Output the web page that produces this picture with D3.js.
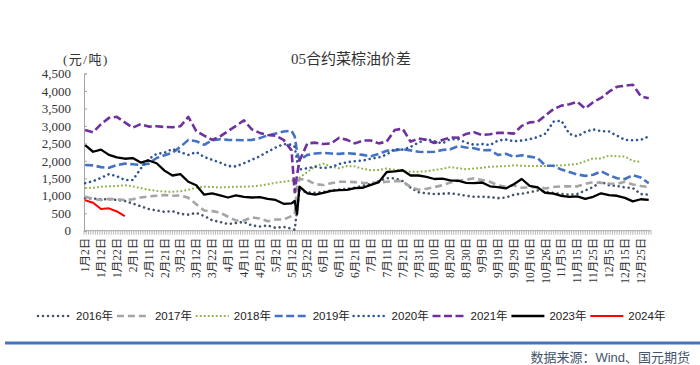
<!DOCTYPE html>
<html>
<head>
<meta charset="utf-8">
<title>05合约菜棕油价差</title>
<script src="https://cdn.jsdelivr.net/npm/d3@7"></script>
<style>
body { margin: 0; background: #fff; }
svg { display: block; }
.serif { font-family: "Liberation Serif", "Noto Sans CJK SC", serif; fill: #333; }
.sans { font-family: "Liberation Sans", "Noto Sans CJK SC", sans-serif; fill: #222; }
</style>
</head>
<body>
<svg id="chart" width="700" height="365"></svg>
<script>

// x labels, one every 7 trading days (250 trading days on the axis)
var nDays = 250;
var tickLabels = ["1月2日","1月12日","1月22日","2月1日","2月11日","2月21日","3月2日","3月12日","3月22日",
  "4月1日","4月11日","4月21日","5月2日","5月12日","5月22日","6月1日","6月11日","6月21日",
  "7月1日","7月11日","7月21日","7月31日","8月10日","8月20日","8月30日","9月9日","9月19日",
  "9月29日","10月16日","10月26日","11月5日","11月15日","11月25日","12月5日","12月15日","12月25日"];

// trading-day index of each value (denser around the May rollover)
var samplePos = d3.range(0, 91.1, 3.5).concat([92.4, 93.45], d3.range(94.5, 249, 3.5));

var yTicks = [0, 500, 1000, 1500, 2000, 2500, 3000, 3500, 4000, 4500];

var s2016 = [930,920,900,900,880,850,780,700,620,580,540,560,480,460,510,420,300,250,190,220,250,150,120,150,80,110,60,
  30,600,
  1150,1100,1080,1110,1150,1180,1200,1230,1290,1340,1420,1500,1500,1420,1230,1100,1070,1050,1060,1070,1040,1000,970,975,
  960,930,950,1030,1060,1100,1150,1120,1080,1050,1030,1050,1150,1250,1400,1300,1280,1240,1220,1050,1030];
var s2017 = [970,910,880,910,900,880,900,950,980,1000,1020,1000,1010,940,760,580,560,520,400,290,290,380,350,270,320,320,420,
  450,1300,
  1480,1450,1330,1310,1360,1400,1400,1390,1370,1360,1380,1400,1420,1420,1250,1170,1200,1250,1300,1380,1430,1460,1500,1450,
  1400,1300,1260,1300,1230,1240,1250,1210,1250,1270,1270,1270,1340,1390,1370,1350,1340,1400,1320,1280,1250];
var s2018 = [1220,1230,1260,1270,1280,1300,1270,1220,1170,1140,1120,1115,1130,1170,1230,1260,1250,1240,1245,1260,1260,1270,1290,1330,1370,1400,1430,
  1440,1480,
  1520,1680,1850,1920,1830,1790,1850,1840,1770,1730,1740,1780,1740,1700,1690,1690,1700,1740,1770,1820,1790,1760,1780,1800,
  1830,1840,1850,1870,1860,1850,1850,1850,1860,1870,1890,1910,1990,2070,2070,2150,2130,2120,2000,1970,null];
var s2019 = [1880,1870,1820,1800,1880,1920,1900,1880,1920,2080,2160,2230,2400,2600,2560,2460,2590,2620,2600,2595,2590,2600,2650,2730,2780,2840,2860,
  2700,2250,
  2020,2170,2210,2230,2210,2200,2220,2200,2170,2130,2200,2290,2300,2330,2300,2260,2250,2260,2310,2330,2420,2380,2360,2300,
  2310,2170,2200,2120,2160,2120,2080,1860,1860,1750,1680,1610,1570,1600,1700,1590,1500,1480,1590,1520,1360];
var s2020 = [1360,1420,1510,1620,1560,1450,1450,1780,2050,2200,2230,2340,2250,2170,2250,2110,2030,1950,1850,1840,1930,2030,2130,2260,2380,2480,2460,
  2400,2000,
  1750,1790,1830,1790,1820,1910,1960,1990,2010,2060,2100,2180,2340,2320,2400,2520,2620,2560,2500,2620,2620,2520,2460,2480,
  2450,2580,2610,2560,2580,2620,2680,2780,3120,3150,2770,2700,2830,2900,2850,2840,2720,2600,2590,2600,2700];
var s2021 = [2880,2820,3050,3230,3260,3100,2950,3050,2980,2990,2970,2960,2990,3260,2850,2720,2600,2700,2850,3000,3160,2900,2800,2740,2720,2600,2300,
  1100,1600,
  2000,2500,2520,2480,2500,2660,2600,2500,2580,2580,2500,2550,2880,2920,2550,2640,2600,2510,2595,2670,2660,2770,2820,2740,
  2760,2800,2800,2780,3000,3100,3120,3300,3480,3580,3620,3690,3500,3680,3800,3980,4120,4150,4180,3850,3790];
var s2023 = [2450,2260,2320,2170,2100,2060,2080,1950,2010,1930,1720,1580,1620,1400,1300,1030,1070,1010,950,1010,970,950,960,910,880,770,780,
  850,480,
  1260,1070,1030,1080,1140,1160,1170,1220,1230,1310,1390,1680,1700,1730,1580,1580,1540,1480,1490,1440,1430,1370,1360,1380,
  1270,1250,1210,1330,1480,1280,1240,1080,1060,1000,970,980,910,970,1070,1020,1000,940,840,900,880];
var s2024 = [870,800,620,640,550,420];

var series = [
  {name: "2016年", values: s2016, color: "#44546A", width: 2.6, dash: "0.01,5", cap: "round"},
  {name: "2017年", values: s2017, color: "#A5A5A5", width: 2.6, dash: "7,4", cap: "butt"},
  {name: "2018年", values: s2018, color: "#8DB048", width: 2, dash: "1.8,2.2", cap: "butt"},
  {name: "2019年", values: s2019, color: "#4472C4", width: 2.6, dash: "8,3.5", cap: "butt"},
  {name: "2020年", values: s2020, color: "#2F5597", width: 2.6, dash: "0.01,5", cap: "round"},
  {name: "2021年", values: s2021, color: "#7030A0", width: 2.6, dash: "8,3.5", cap: "butt"},
  {name: "2023年", values: s2023, color: "#000000", width: 2.3, dash: null, cap: "butt"},
  {name: "2024年", values: s2024, color: "#FF0000", width: 2, dash: null, cap: "butt"}
];

var svg = d3.select("#chart");
var plotL = 84, plotR = 651, plotT = 73.5, plotB = 230.7;

var x = d3.scaleLinear().domain([0, nDays]).range([plotL, plotR]);
var y = d3.scaleLinear().domain([0, 4500]).range([plotB, plotT]);

// title and unit
svg.append("text").attr("class", "serif").attr("x", 351).attr("y", 64)
  .attr("text-anchor", "middle").style("font-size", "15px").text("05合约菜棕油价差");
svg.append("text").attr("class", "serif").attr("x", 63).attr("y", 64)
  .style("font-size", "13px").style("letter-spacing", "1.5px").text("(元/吨)");

// y axis
var yAxis = svg.append("g").attr("transform", "translate(" + plotL + ",0)")
  .call(d3.axisLeft(y).tickValues(yTicks).tickSize(-3).tickPadding(13).tickFormat(d3.format(",")));
yAxis.select(".domain").attr("stroke", "#A6A6A6");
yAxis.selectAll(".tick line").attr("stroke", "#A6A6A6");
yAxis.selectAll("text").attr("class", "serif").style("font-size", "13px").attr("fill", "#333");

// x axis: a tick mark for every trading day, a label every 7th
var xg = svg.append("g");
xg.append("line").attr("x1", plotL).attr("x2", plotR).attr("y1", plotB).attr("y2", plotB)
  .attr("stroke", "#A6A6A6");
xg.selectAll(".dtick").data(d3.range(nDays + 1)).enter().append("line")
  .attr("x1", function(d) { return x(d); }).attr("x2", function(d) { return x(d); })
  .attr("y1", plotB).attr("y2", plotB + 4)
  .attr("stroke", "#A6A6A6").attr("stroke-width", 0.8);
xg.selectAll(".xl").data(tickLabels).enter().append("text")
  .attr("class", "serif")
  .attr("transform", function(d, i) { return "translate(" + (x(i * 7 + 0.5) + 4) + "," + (plotB + 7) + ") rotate(-90)"; })
  .attr("text-anchor", "end")
  .style("font-size", "11.5px")
  .text(function(d) { return d; });

// lines
var line = d3.line()
  .defined(function(d) { return d != null; })
  .x(function(d, i) { return x(samplePos[i] + 0.5); })
  .y(function(d) { return y(d); });

svg.append("g").selectAll("path").data(series).enter().append("path")
  .attr("d", function(s) { return line(s.values); })
  .attr("fill", "none")
  .attr("stroke", function(s) { return s.color; })
  .attr("stroke-width", function(s) { return s.width; })
  .attr("stroke-dasharray", function(s) { return s.dash; })
  .attr("stroke-linecap", function(s) { return s.cap; })
  .attr("stroke-linejoin", "round");

// legend
var lg = svg.append("g").selectAll("g").data(series).enter().append("g")
  .attr("transform", function(d, i) { return "translate(" + (38 + i * 78.9) + ",316)"; });
lg.append("line").attr("x1", 0).attr("x2", 33).attr("y1", 0).attr("y2", 0)
  .attr("stroke", function(s) { return s.color; })
  .attr("stroke-width", function(s) { return s.width; })
  .attr("stroke-dasharray", function(s) { return s.dash; })
  .attr("stroke-linecap", function(s) { return s.cap; });
lg.append("text").attr("class", "sans").attr("x", 38).attr("dy", "0.36em")
  .style("font-size", "11.5px").text(function(s) { return s.name; });

// footer
svg.append("line").attr("x1", 5).attr("x2", 700).attr("y1", 343).attr("y2", 343)
  .attr("stroke", "#4472C4").attr("stroke-width", 3);
svg.append("text").attr("class", "sans").attr("x", 690).attr("y", 362)
  .attr("text-anchor", "end").style("font-size", "13px").style("fill", "#44546A")
  .text("数据来源：Wind、国元期货");

</script>
</body>
</html>
